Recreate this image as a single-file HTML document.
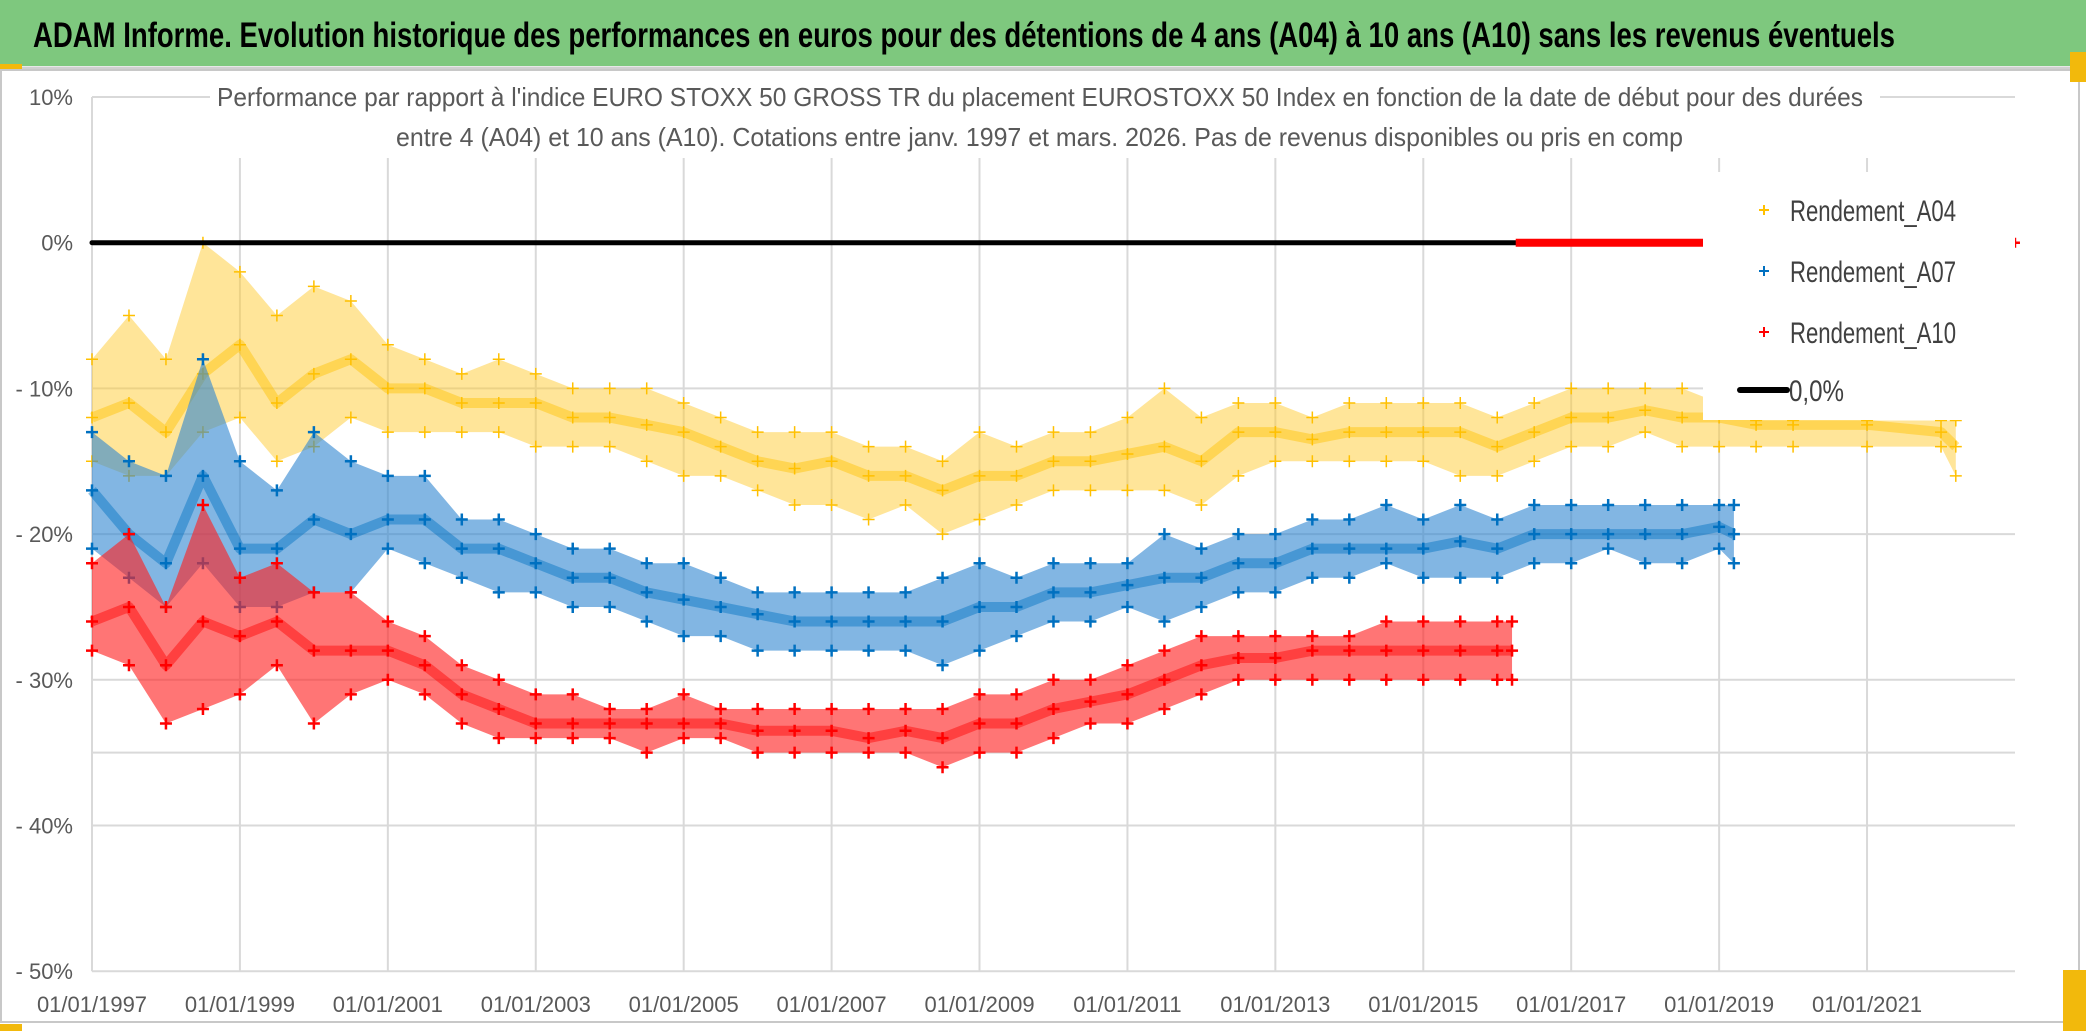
<!DOCTYPE html>
<html><head><meta charset="utf-8">
<style>
html,body{margin:0;padding:0;background:#fff;}
svg{display:block;font-family:"Liberation Sans",sans-serif;}
</style></head>
<body>
<svg id="chart" width="2086" height="1031" viewBox="0 0 2086 1031" xmlns="http://www.w3.org/2000/svg">
  <rect x="0" y="0" width="2086" height="1031" fill="#fff"/>
  <rect x="0" y="0" width="2086" height="66" fill="#7ec87e"/>
  <line x1="0" y1="68" x2="2086" y2="68" stroke="#d0d0d0" stroke-width="3"/>
  <rect x="0" y="64" width="22" height="5" fill="#f2b90c"/>
  <text x="33" y="47" font-size="35" font-weight="bold" fill="#000" textLength="1862" lengthAdjust="spacingAndGlyphs">ADAM Informe. Evolution historique des performances en euros pour des détentions de 4 ans (A04) à 10 ans (A10) sans les revenus éventuels</text>
  <rect x="1" y="70" width="2078" height="952" fill="none" stroke="#c8c8c8" stroke-width="2"/>
  <rect x="0" y="1024" width="22" height="7" fill="#f2b90c"/>
  <rect x="2063" y="970" width="23" height="61" fill="#f2b90c"/>
  <rect x="2070" y="52" width="16" height="30" fill="#f2b90c"/>
  <g id="grid"></g>
  <g id="plot"></g>
  <g id="overlay"></g>
</svg>
<script>
// ---- data ----
const yearTicks = [1997,1999,2001,2003,2005,2007,2009,2011,2013,2015,2017,2019,2021];
const xTickLabels = ["01/01/1997","01/01/1999","01/01/2001","01/01/2003","01/01/2005","01/01/2007","01/01/2009","01/01/2011","01/01/2013","01/01/2015","01/01/2017","01/01/2019","01/01/2021"];
const yTicks = [10,0,-10,-20,-30,-40,-50];
const yTickLabels = ["10%","0%","- 10%","- 20%","- 30%","- 40%","- 50%"];

const a04Dates = [1997.0,1997.5,1998.0,1998.5,1999.0,1999.5,2000.0,2000.5,2001.0,2001.5,2002.0,2002.5,2003.0,2003.5,2004.0,2004.5,2005.0,2005.5,2006.0,2006.5,2007.0,2007.5,2008.0,2008.5,2009.0,2009.5,2010.0,2010.5,2011.0,2011.5,2012.0,2012.5,2013.0,2013.5,2014.0,2014.5,2015.0,2015.5,2016.0,2016.5,2017.0,2017.5,2018.0,2018.5,2019.0,2019.5,2020.0,2021.0,2022.0,2022.2];
const a04Mid  = [-12,-11,-13,-9,-7,-11,-9,-8,-10,-10,-11,-11,-11,-12,-12,-12.5,-13,-14,-15,-15.5,-15,-16,-16,-17,-16,-16,-15,-15,-14.5,-14,-15,-13,-13,-13.5,-13,-13,-13,-13,-14,-13,-12,-12,-11.5,-12,-12,-12.5,-12.5,-12.5,-13,-14];
const a04Low  = [-15,-16,-16,-13,-12,-15,-14,-12,-13,-13,-13,-13,-14,-14,-14,-15,-16,-16,-17,-18,-18,-19,-18,-20,-19,-18,-17,-17,-17,-17,-18,-16,-15,-15,-15,-15,-15,-16,-16,-15,-14,-14,-13,-14,-14,-14,-14,-14,-14,-16];
const a04High = [-8,-5,-8,0,-2,-5,-3,-4,-7,-8,-9,-8,-9,-10,-10,-10,-11,-12,-13,-13,-13,-14,-14,-15,-13,-14,-13,-13,-12,-10,-12,-11,-11,-12,-11,-11,-11,-11,-12,-11,-10,-10,-10,-10,-11,-12.2,-12.2,-12.2,-12.2,-12.2];

const a07Dates = [1997.0,1997.5,1998.0,1998.5,1999.0,1999.5,2000.0,2000.5,2001.0,2001.5,2002.0,2002.5,2003.0,2003.5,2004.0,2004.5,2005.0,2005.5,2006.0,2006.5,2007.0,2007.5,2008.0,2008.5,2009.0,2009.5,2010.0,2010.5,2011.0,2011.5,2012.0,2012.5,2013.0,2013.5,2014.0,2014.5,2015.0,2015.5,2016.0,2016.5,2017.0,2017.5,2018.0,2018.5,2019.0,2019.2];
const a07Mid  = [-17,-20,-22,-16,-21,-21,-19,-20,-19,-19,-21,-21,-22,-23,-23,-24,-24.5,-25,-25.5,-26,-26,-26,-26,-26,-25,-25,-24,-24,-23.5,-23,-23,-22,-22,-21,-21,-21,-21,-20.5,-21,-20,-20,-20,-20,-20,-19.5,-20];
const a07Low  = [-21,-23,-25,-22,-25,-25,-24,-24,-21,-22,-23,-24,-24,-25,-25,-26,-27,-27,-28,-28,-28,-28,-28,-29,-28,-27,-26,-26,-25,-26,-25,-24,-24,-23,-23,-22,-23,-23,-23,-22,-22,-21,-22,-22,-21,-22];
const a07High = [-13,-15,-16,-8,-15,-17,-13,-15,-16,-16,-19,-19,-20,-21,-21,-22,-22,-23,-24,-24,-24,-24,-24,-23,-22,-23,-22,-22,-22,-20,-21,-20,-20,-19,-19,-18,-19,-18,-19,-18,-18,-18,-18,-18,-18,-18];

const a10Dates = [1997.0,1997.5,1998.0,1998.5,1999.0,1999.5,2000.0,2000.5,2001.0,2001.5,2002.0,2002.5,2003.0,2003.5,2004.0,2004.5,2005.0,2005.5,2006.0,2006.5,2007.0,2007.5,2008.0,2008.5,2009.0,2009.5,2010.0,2010.5,2011.0,2011.5,2012.0,2012.5,2013.0,2013.5,2014.0,2014.5,2015.0,2015.5,2016.0,2016.2];
const a10Mid  = [-26,-25,-29,-26,-27,-26,-28,-28,-28,-29,-31,-32,-33,-33,-33,-33,-33,-33,-33.5,-33.5,-33.5,-34,-33.5,-34,-33,-33,-32,-31.5,-31,-30,-29,-28.5,-28.5,-28,-28,-28,-28,-28,-28,-28];
const a10Low  = [-28,-29,-33,-32,-31,-29,-33,-31,-30,-31,-33,-34,-34,-34,-34,-35,-34,-34,-35,-35,-35,-35,-35,-36,-35,-35,-34,-33,-33,-32,-31,-30,-30,-30,-30,-30,-30,-30,-30,-30];
const a10High = [-22,-20,-25,-18,-23,-22,-24,-24,-26,-27,-29,-30,-31,-31,-32,-32,-31,-32,-32,-32,-32,-32,-32,-32,-31,-31,-30,-30,-29,-28,-27,-27,-27,-27,-27,-26,-26,-26,-26,-26];

const zeroLineStart = 1997.0, zeroLineEnd = 2016.25;
const redZeroStart = 2016.25, redZeroEnd = 2019.0, redZeroPoint = 2023.0;

// ---- axes ----
const X0 = 92, PX_PER_YEAR = 73.96, XMAX = 2015;
const Y10 = 97, PX_PER_PCT = 14.57;
function xs(year){ return X0 + (year - 1997) * PX_PER_YEAR; }
function ys(v){ return Y10 + (10 - v) * PX_PER_PCT; }

const NS = "http://www.w3.org/2000/svg";
function mk(tag, attrs, parent){
  const e = document.createElementNS(NS, tag);
  for (const k in attrs) e.setAttribute(k, attrs[k]);
  parent.appendChild(e);
  return e;
}
const grid = document.getElementById('grid');
const plot = document.getElementById('plot');
const overlay = document.getElementById('overlay');

yTicks.forEach((v, i) => {
  const l = mk('line', {x1: X0, x2: XMAX, y1: ys(v), y2: ys(v), stroke: '#d9d9d9', 'stroke-width': 2}, grid);
  
  
  const t = mk('text', {x: 73, y: ys(v) + 8, 'text-anchor': 'end', 'font-size': 22, fill: '#595959'}, grid);
  t.textContent = yTickLabels[i];
  
  
});
const g35 = mk('line', {x1: X0, x2: XMAX, y1: ys(-35), y2: ys(-35), stroke: '#d9d9d9', 'stroke-width': 2}, grid);


yearTicks.forEach((yr, i) => {
  const l = mk('line', {x1: xs(yr), x2: xs(yr), y1: ys(10), y2: ys(-50), stroke: '#d9d9d9', 'stroke-width': 2}, grid);
  
  
  const t = mk('text', {x: xs(yr), y: 1012, 'text-anchor': 'middle', 'font-size': 22, fill: '#595959'}, grid);
  t.textContent = xTickLabels[i];
  
  
});

const subBg = mk('rect', {x: 210, y: 72, width: 1670, height: 86, fill: '#fff'}, grid);


const s1 = mk('text', {x: 217, y: 106, 'font-size': 26, fill: '#595959', textLength: 1646, lengthAdjust: 'spacingAndGlyphs'}, grid);
s1.textContent = "Performance par rapport à l'indice EURO STOXX 50 GROSS TR  du placement EUROSTOXX 50 Index en fonction de la date de début pour des durées";


const s2 = mk('text', {x: 396, y: 146, 'font-size': 26, fill: '#595959', textLength: 1287, lengthAdjust: 'spacingAndGlyphs'}, grid);
s2.textContent = "entre 4 (A04) et 10 ans (A10). Cotations entre janv. 1997 et mars. 2026. Pas de revenus disponibles ou pris en comp";



function plus(x, y, color, size, w, parent, name){
  const p = mk('path', {d: `M${x-size} ${y}H${x+size}M${x} ${y-size}V${y+size}`, stroke: color, 'stroke-width': w, fill: 'none'}, parent);
  
  
}

function series(dates, mid, low, high, color, bandColor, bandOpacity, name, w){
  const g = mk('g', {}, plot);
  
  
  let d = '';
  dates.forEach((t, i) => { d += (i ? 'L' : 'M') + xs(t) + ' ' + ys(high[i]); });
  for (let i = dates.length - 1; i >= 0; i--) d += 'L' + xs(dates[i]) + ' ' + ys(low[i]);
  const band = mk('path', {d: d + 'Z', fill: bandColor, opacity: bandOpacity}, g);
  
  
  let dm = '';
  dates.forEach((t, i) => { dm += (i ? 'L' : 'M') + xs(t) + ' ' + ys(mid[i]); });
  const ml = mk('path', {d: dm, fill: 'none', stroke: color, 'stroke-width': 10, opacity: 0.45, 'stroke-linejoin': 'round'}, g);
  
  
  dates.forEach((t, i) => {
    plus(xs(t), ys(mid[i]), color, 6, w, g, name + '-point');
    plus(xs(t), ys(low[i]), color, 6, w, g, name + '-point');
    plus(xs(t), ys(high[i]), color, 6, w, g, name + '-point');
  });
}
series(a04Dates, a04Mid, a04Low, a04High, '#ffc000', '#ffcc33', 0.5, 'series-a04', 1.5);
series(a07Dates, a07Mid, a07Low, a07High, '#0070c0', '#2e86d0', 0.6, 'series-a07', 2.5);
series(a10Dates, a10Mid, a10Low, a10High, '#ff0000', '#ff2020', 0.62, 'series-a10', 2.5);

const zl = mk('line', {x1: xs(zeroLineStart), x2: xs(zeroLineEnd), y1: ys(0), y2: ys(0), stroke: '#000', 'stroke-width': 5, 'stroke-linecap': 'round'}, overlay);


const rz = mk('line', {x1: xs(redZeroStart), x2: xs(redZeroEnd), y1: ys(0), y2: ys(0), stroke: '#ff0000', 'stroke-width': 8}, overlay);


plus(xs(redZeroPoint), ys(0), '#ff0000', 5, 2.5, overlay, 'series-a10-zero-point');

const lg = mk('g', {}, overlay);


const lbg = mk('rect', {x: 1703, y: 172, width: 312, height: 248, fill: '#fff'}, lg);


const legNames = ['Rendement_A04', 'Rendement_A07', 'Rendement_A10'];
const legColors = ['#ffc000', '#0070c0', '#ff0000'];
const legY = [210, 271, 332];
legNames.forEach((n, i) => {
  plus(1764, legY[i], legColors[i], 5, 2, lg, 'legend-marker');
  const t = mk('text', {x: 1790, y: legY[i] + 11, 'font-size': 30, fill: '#404040', textLength: 166, lengthAdjust: 'spacingAndGlyphs'}, lg);
  t.textContent = n;
  
  
});
const ll = mk('line', {x1: 1740, x2: 1787, y1: 390, y2: 390, stroke: '#000', 'stroke-width': 6, 'stroke-linecap': 'round'}, lg);


const lt = mk('text', {x: 1789, y: 401, 'font-size': 30, fill: '#404040', textLength: 55, lengthAdjust: 'spacingAndGlyphs'}, lg);
lt.textContent = '0,0%';


</script>
</body></html>
